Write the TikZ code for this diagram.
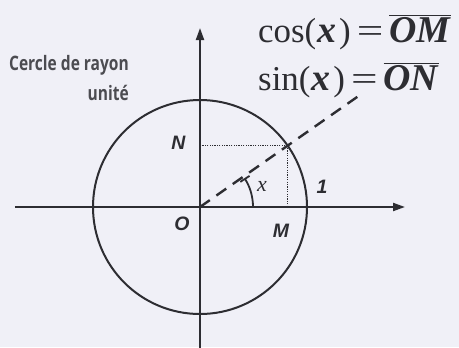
\documentclass[tikz,border=0pt]{standalone}
\usepackage{fontspec}
\setmainfont{Liberation Serif}
\newfontfamily\labfont{Liberation Sans}
\newfontfamily\comicfont{Open Sans}
\usetikzlibrary{arrows.meta}
\definecolor{bg}{RGB}{240,240,247}
\definecolor{ink}{RGB}{45,45,50}
\newcommand{\narrowtext}[1]{\scalebox{0.78}[1]{#1}}
\newcommand{\bigx}{{\fontsize{38}{38}\selectfont\textbf{\textit{x}}}}
\newcommand{\wideeq}{\scalebox{1.35}[1]{=}}
\newcommand{\segm}[1]{$\overline{\mbox{\fontsize{38}{38}\selectfont\textbf{\textit{#1}}}}$}
\tikzset{
  axis/.style={draw=ink, line width=2bp, -{Triangle[length=12bp,width=8bp]}},
  unitcircle/.style={draw=ink, line width=2bp},
  ray/.style={draw=ink, line width=2.4bp, dash pattern=on 12bp off 8bp},
  proj/.style={draw=ink, line width=1.4bp, dash pattern=on 1.2bp off 1.2bp},
  ptlabel/.style={font=\labfont\bfseries\itshape\fontsize{19.5}{19.5}\selectfont, text=ink, inner sep=0pt},
  comic/.style={font=\comicfont\bfseries\fontsize{20}{20}\selectfont, text=ink!85, inner sep=0pt},
  formula/.style={font=\fontsize{35}{35}\selectfont, text=ink, inner sep=0pt},
}
\begin{document}
\begin{tikzpicture}[x=1bp,y=1bp]
\fill[bg] (-200,-140) rectangle (259,207);
\useasboundingbox (-200,-140) rectangle (259,207);
\coordinate (O) at (0,0);
\coordinate (xl) at (-185,0);
\coordinate (xr) at (205,0);
\coordinate (yb) at (0,-145);
\coordinate (yt) at (0,179);
\coordinate (P) at (35:107);
\coordinate (R) at (35:193);
\coordinate (M) at (P |- O);
\coordinate (N) at (P -| O);
\draw[axis] (xl) -- (xr);
\draw[axis] (yb) -- (yt);
\draw[unitcircle] (O) circle[radius=107];
\draw[ray] (O) -- (R);
\draw[proj] (P) -- (M);
\draw[proj] (P) -- (N);
\draw[draw=ink, line width=1.8bp, -{Bar[width=11bp]}] (53,0) arc[start angle=0, end angle=33, radius=53];
\node[ptlabel] (Nl) at (-21.5,64.5) {N};
\node[ptlabel] (Ol) at (-18,-17) {O};
\node[ptlabel] (Ml) at (81,-24) {M};
\node[ptlabel] (one) at (122,20) {1};
\node[formula, font=\fontsize{22}{22}\selectfont\itshape] (xa) at (62,21) {x};
\node[comic, anchor=base east] (c1) at (-71,137) {\narrowtext{Cercle de rayon}};
\node[comic, anchor=base east] (c2) at (-71,107) {\narrowtext{unité}};
\node[formula, anchor=base west] (f1) at (58,165) {cos(\kern1bp\bigx\kern3bp)\kern6bp\wideeq\kern6bp\segm{OM}};
\node[formula, anchor=base west] (f2) at (58,117) {sin(\kern1bp\bigx\kern3bp)\kern6bp\wideeq\kern6bp\segm{ON}};
\end{tikzpicture}
\end{document}
